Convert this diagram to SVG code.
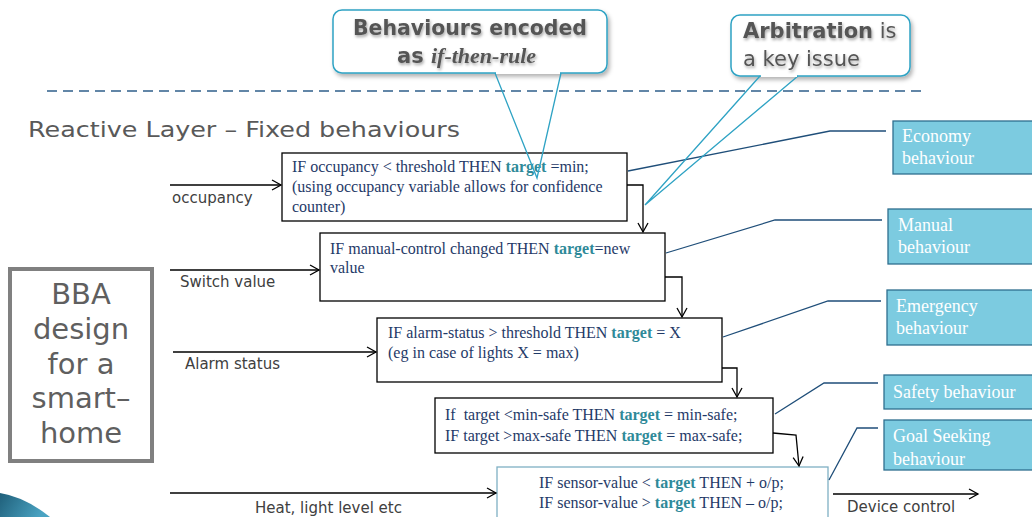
<svg xmlns="http://www.w3.org/2000/svg" width="1032" height="517" viewBox="0 0 1032 517">
  <defs>
    <marker id="open-arrow" markerUnits="userSpaceOnUse" markerWidth="14" markerHeight="14" refX="10" refY="6" orient="auto">
      <path d="M1,1 L10,6 L1,11" fill="none" stroke="#000" stroke-width="1.3"/>
    </marker>
    <filter id="callout-shadow" x="-10%" y="-10%" width="130%" height="140%">
      <feDropShadow dx="2" dy="3" stdDeviation="2" flood-color="#000" flood-opacity="0.3"/>
    </filter>
    <filter id="text-shadow" x="-5%" y="-20%" width="110%" height="150%">
      <feDropShadow dx="1" dy="2" stdDeviation="1.4" flood-color="#000" flood-opacity="0.35"/>
    </filter>
    <linearGradient id="swoosh" x1="0" y1="0" x2="1" y2="0.3">
      <stop offset="0" stop-color="#1f5f7a"/>
      <stop offset="1" stop-color="#4aa3c2"/>
    </linearGradient>
  </defs>
  <style>
    .rule { fill: #fff; stroke: #000; stroke-width: 1.3; }
    .rule-goal { fill: #fff; stroke: #7fb0c4; stroke-width: 1.3; }
    .rule-text { font-family: "Liberation Serif", "Times New Roman", serif; font-size: 16px; fill: #1f3a68; }
    .tgt { font-weight: bold; fill: #2f8a99; }
    .label { font-family: "DejaVu Sans", Verdana, sans-serif; font-size: 15px; fill: #404040; }
    .flow { fill: none; stroke: #000; stroke-width: 1.3; }
    .beh { fill: #7ccbe0; stroke: #2f6f8f; stroke-width: 1.3; }
    .beh-text { font-family: "Liberation Serif", "Times New Roman", serif; font-size: 18px; fill: #fff; }
    .beh-link { fill: none; stroke: #1f4e79; stroke-width: 1.3; }
    .callout { fill: #fff; stroke: #2fa3c4; stroke-width: 1.5; }
    .tail { fill: none; stroke: #2fa3c4; stroke-width: 1.3; }
    .callout-text { font-family: "DejaVu Sans", Verdana, sans-serif; font-size: 21px; fill: #555; }
  </style>

  <!-- corner decoration -->
  <path d="M0,493 Q25,497 50,517 L0,517 Z" fill="url(#swoosh)"/>

  <!-- layer divider -->
  <line x1="47" y1="91" x2="922" y2="91" stroke="#2f5f8a" stroke-width="1.5" stroke-dasharray="10,6"/>

  <text x="28" y="137" font-family="DejaVu Sans, Verdana, sans-serif" font-size="21" fill="#595959" textLength="432" lengthAdjust="spacingAndGlyphs">Reactive Layer – Fixed behaviours</text>

  <!-- side panel -->
  <g id="bba-title">
    <rect x="10" y="269" width="142" height="192" fill="#fff" stroke="#808080" stroke-width="4"/>
    <g font-family="DejaVu Sans, Verdana, sans-serif" font-size="29" fill="#5f5f5f" text-anchor="middle">
      <text x="81" y="304">BBA</text>
      <text x="81" y="339">design</text>
      <text x="81" y="374">for a</text>
      <text x="81" y="408">smart–</text>
      <text x="81" y="443">home</text>
    </g>
  </g>

  <!-- rule boxes -->
  <g id="rule-economy">
    <rect class="rule" x="282" y="153" width="345" height="68"/>
    <text class="rule-text" x="292" y="172">IF occupancy &lt; threshold THEN <tspan class="tgt">target</tspan> =min;</text>
    <text class="rule-text" x="292" y="192">(using occupancy variable allows for confidence</text>
    <text class="rule-text" x="292" y="212">counter)</text>
  </g>
  <g id="rule-manual">
    <rect class="rule" x="320" y="233" width="345" height="68"/>
    <text class="rule-text" x="330" y="254">IF manual-control changed THEN <tspan class="tgt">target</tspan>=new</text>
    <text class="rule-text" x="330" y="273">value</text>
  </g>
  <g id="rule-emergency">
    <rect class="rule" x="377" y="318" width="345" height="64"/>
    <text class="rule-text" x="388" y="338">IF alarm-status &gt; threshold THEN <tspan class="tgt">target</tspan> = X</text>
    <text class="rule-text" x="388" y="358">(eg in case of lights X = max)</text>
  </g>
  <g id="rule-safety">
    <rect class="rule" x="435" y="398" width="338" height="55"/>
    <text class="rule-text" x="445" y="420">If&#160; target &lt;min-safe THEN <tspan class="tgt">target</tspan> = min-safe;</text>
    <text class="rule-text" x="445" y="441">IF target &gt;max-safe THEN <tspan class="tgt">target</tspan> = max-safe;</text>
  </g>
  <g id="rule-goal">
    <rect class="rule-goal" x="497" y="467" width="331" height="55"/>
    <text class="rule-text" x="539" y="488">IF sensor-value &lt; <tspan class="tgt">target</tspan> THEN + o/p;</text>
    <text class="rule-text" x="539" y="508">IF sensor-value &gt; <tspan class="tgt">target</tspan> THEN – o/p;</text>
  </g>

  <!-- behaviour labels -->
  <g id="beh-economy">
    <rect class="beh" x="893" y="121" width="145" height="53"/>
    <text class="beh-text" x="902" y="142">Economy</text>
    <text class="beh-text" x="902" y="164">behaviour</text>
  </g>
  <g id="beh-manual">
    <rect class="beh" x="888" y="209" width="150" height="55"/>
    <text class="beh-text" x="898" y="231">Manual</text>
    <text class="beh-text" x="898" y="253">behaviour</text>
  </g>
  <g id="beh-emergency">
    <rect class="beh" x="887" y="290" width="151" height="55"/>
    <text class="beh-text" x="896" y="312">Emergency</text>
    <text class="beh-text" x="896" y="334">behaviour</text>
  </g>
  <g id="beh-safety">
    <rect class="beh" x="884" y="375" width="154" height="34"/>
    <text class="beh-text" x="893" y="398">Safety behaviour</text>
  </g>
  <g id="beh-goal">
    <rect class="beh" x="884" y="420" width="154" height="50"/>
    <text class="beh-text" x="893" y="442">Goal Seeking</text>
    <text class="beh-text" x="893" y="465">behaviour</text>
  </g>

  <!-- connectors -->
  <g id="connectors">
    <line class="flow" x1="170" y1="185" x2="281" y2="185" marker-end="url(#open-arrow)"/>
    <line class="flow" x1="170" y1="270" x2="319" y2="270" marker-end="url(#open-arrow)"/>
    <line class="flow" x1="173" y1="352" x2="376" y2="352" marker-end="url(#open-arrow)"/>
    <line class="flow" x1="170" y1="493" x2="496" y2="493" marker-end="url(#open-arrow)"/>
    <line class="flow" x1="833" y1="494" x2="978" y2="494" marker-end="url(#open-arrow)"/>

    <polyline class="flow" points="627,185 643,185 643,232" marker-end="url(#open-arrow)"/>
    <polyline class="flow" points="665,277 682,277 682,317" marker-end="url(#open-arrow)"/>
    <polyline class="flow" points="722,368 737,368 737,397" marker-end="url(#open-arrow)"/>
    <polyline class="flow" points="773,433 796,435 799,466" marker-end="url(#open-arrow)"/>

    <polyline class="beh-link" points="628,171 830,131 886,131"/>
    <polyline class="beh-link" points="666,253 775,220 882,220"/>
    <polyline class="beh-link" points="723,337 828,301 881,301"/>
    <polyline class="beh-link" points="775,414 824,383 878,383"/>
    <polyline class="beh-link" points="829,480 857,428 878,428"/>
  </g>

  <!-- callouts -->
  <g id="callout-rules">
    <rect class="callout" x="333" y="10" width="274" height="63" rx="9" filter="url(#callout-shadow)"/>
    <polyline class="tail" points="495,73 537,178 561,73"/>
    <line x1="496" y1="73" x2="560" y2="73" stroke="#fff" stroke-width="2"/>
    <g filter="url(#text-shadow)">
      <text class="callout-text" x="470" y="35" text-anchor="middle" font-weight="bold" textLength="234" lengthAdjust="spacingAndGlyphs">Behaviours encoded</text>
      <text x="397" y="63" font-family="DejaVu Sans, Verdana, sans-serif" font-size="21" font-weight="bold" fill="#555">as <tspan font-family="Liberation Serif, Times New Roman, serif" font-style="italic" font-size="22">if-then-rule</tspan></text>
    </g>
  </g>
  <g id="callout-arbitration">
    <rect class="callout" x="731" y="15" width="179" height="61" rx="9" filter="url(#callout-shadow)"/>
    <polyline class="tail" points="760,76 645,205 798,76"/>
    <line x1="761" y1="76" x2="797" y2="76" stroke="#fff" stroke-width="2"/>
    <g filter="url(#text-shadow)">
      <text class="callout-text" x="743" y="38"><tspan font-weight="bold">Arbitration</tspan> is</text>
      <text class="callout-text" x="743" y="66">a key issue</text>
    </g>
  </g>

  <!-- flow labels -->
  <g id="flow-labels">
    <text class="label" x="172" y="203">occupancy</text>
    <text class="label" x="180" y="287">Switch value</text>
    <text class="label" x="185" y="369">Alarm status</text>
    <text class="label" x="255" y="513">Heat, light level etc</text>
    <text class="label" x="847" y="512">Device control</text>
  </g>
</svg>
